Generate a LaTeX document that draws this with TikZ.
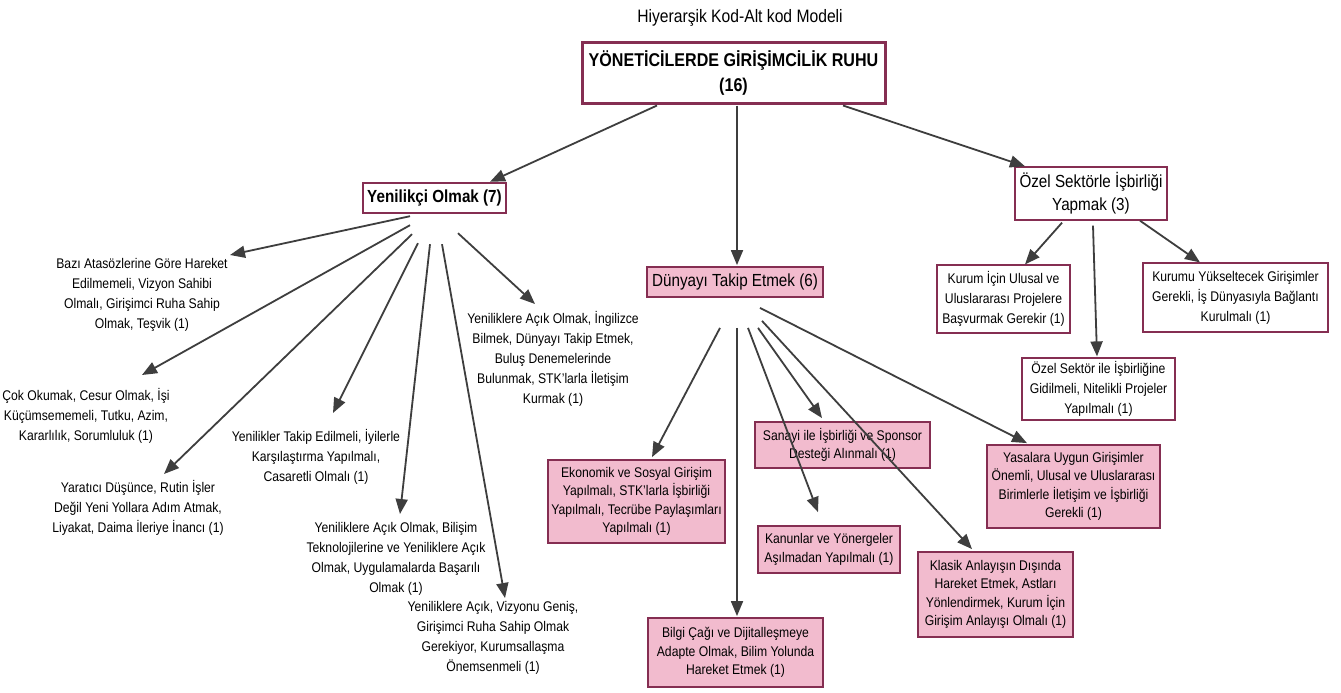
\documentclass[tikz,border=0pt]{standalone}
\usepackage{fontspec}
\setmainfont{Liberation Sans}[FakeStretch=0.87]
\usetikzlibrary{arrows.meta,calc}
\definecolor{boxedge}{RGB}{133,46,82}
\definecolor{boxpink}{RGB}{242,187,206}
\definecolor{arrowgray}{RGB}{62,62,62}
\tikzset{
  box/.style={draw=boxedge, align=center, inner sep=1pt, text=black,
    font=\fontsize{14}{18.5}\selectfont},
  pinkbox/.style={box, fill=boxpink, line width=1.8pt},
  whitebox/.style={box, fill=white, line width=1.2pt,
    font=\fontsize{14}{20}\selectfont},
  leaf/.style={align=center, inner sep=0pt, anchor=north, text=black,
    font=\fontsize{14}{20}\selectfont},
  arr/.style={draw=arrowgray, line width=1.8pt,
    -{Triangle[length=15pt,width=12pt]}}
}
\begin{document}
\begin{tikzpicture}[x=1pt,y=-1pt]
\useasboundingbox[fill=white] (0,0) rectangle (1341,693);

% title
\node[font=\fontsize{18}{22}\selectfont] (title) at (740,18) {Hiyerarşik Kod-Alt kod Modeli};

% root and first level
\node[box, fill=white, line width=3pt, minimum width=303pt, minimum height=60pt,
  font=\fontsize{18.5}{25}\selectfont\bfseries] (root) at (733.5,73)
  {YÖNETİCİLERDE GİRİŞİMCİLİK RUHU\\(16)};
\node[box, fill=white, line width=2.4pt, minimum width=143pt, minimum height=30pt,
  font=\fontsize{17.5}{21}\selectfont\bfseries] (yen) at (434.5,198) {Yenilikçi Olmak (7)};
\node[box, fill=white, line width=1.4pt, minimum width=152pt, minimum height=53pt,
  font=\fontsize{17.5}{23}\selectfont] (ozel) at (1091,193.5) {Özel Sektörle İşbirliği\\Yapmak (3)};
\node[pinkbox, minimum width=176pt, minimum height=30pt,
  font=\fontsize{17.5}{21}\selectfont] (dun) at (735,282) {Dünyayı Takip Etmek (6)};

% children of "Özel Sektörle İşbirliği Yapmak"
\node[whitebox, minimum width=133pt, minimum height=68pt] (kic) at (1003.5,299)
  {Kurum İçin Ulusal ve\\Uluslararası Projelere\\Başvurmak Gerekir (1)};
\node[whitebox, minimum width=185pt, minimum height=69pt] (kuy) at (1235.5,297.5)
  {Kurumu Yükseltecek Girişimler\\Gerekli, İş Dünyasıyla Bağlantı\\Kurulmalı (1)};
\node[whitebox, minimum width=153pt, minimum height=62pt] (ozs) at (1098.5,389)
  {Özel Sektör ile İşbirliğine\\Gidilmeli, Nitelikli Projeler\\Yapılmalı (1)};

% children of "Dünyayı Takip Etmek"
\node[pinkbox, minimum width=177pt, minimum height=83pt] (eko) at (636.5,501.5)
  {Ekonomik ve Sosyal Girişim\\Yapılmalı, STK'larla İşbirliği\\Yapılmalı, Tecrübe Paylaşımları\\Yapılmalı (1)};
\node[pinkbox, minimum width=175pt, minimum height=46pt] (san) at (842.5,445)
  {Sanayi ile İşbirliği ve Sponsor\\Desteği Alınmalı (1)};
\node[pinkbox, minimum width=142pt, minimum height=47pt] (kan) at (829,549.5)
  {Kanunlar ve Yönergeler\\Aşılmadan Yapılmalı (1)};
\node[pinkbox, minimum width=175pt, minimum height=69pt] (bil) at (735.5,652.5)
  {Bilgi Çağı ve Dijitalleşmeye\\Adapte Olmak, Bilim Yolunda\\Hareket Etmek (1)};
\node[pinkbox, minimum width=173pt, minimum height=83pt] (yas) at (1073.5,486.5)
  {Yasalara Uygun Girişimler\\Önemli, Ulusal ve Uluslararası\\Birimlerle İletişim ve İşbirliği\\Gerekli (1)};
\node[pinkbox, minimum width=155pt, minimum height=85pt] (kla) at (995.5,594.5)
  {Klasik Anlayışın Dışında\\Hareket Etmek, Astları\\Yönlendirmek, Kurum İçin\\Girişim Anlayışı Olmalı (1)};

% children of "Yenilikçi Olmak" (plain text)
\node[leaf] (baz) at (142,258)
  {Bazı Atasözlerine Göre Hareket\\Edilmemeli, Vizyon Sahibi\\Olmalı, Girişimci Ruha Sahip\\Olmak, Teşvik (1)};
\node[leaf] (cok) at (86,388)
  {Çok Okumak, Cesur Olmak, İşi\\Küçümsememeli, Tutku, Azim,\\Kararlılık, Sorumluluk (1)};
\node[leaf] (yar) at (138,480)
  {Yaratıcı Düşünce, Rutin İşler\\Değil Yeni Yollara Adım Atmak,\\Liyakat, Daima İleriye İnancı (1)};
\node[leaf] (tak) at (316,429)
  {Yenilikler Takip Edilmeli, İyilerle\\Karşılaştırma Yapılmalı,\\Casaretli Olmalı (1)};
\node[leaf] (bls) at (396,522)
  {Yeniliklere Açık Olmak, Bilişim\\Teknolojilerine ve Yeniliklere Açık\\Olmak, Uygulamalarda Başarılı\\Olmak (1)};
\node[leaf] (viz) at (493,601)
  {Yeniliklere Açık, Vizyonu Geniş,\\Girişimci Ruha Sahip Olmak\\Gerekiyor, Kurumsallaşma\\Önemsenmeli (1)};
\node[leaf] (ing) at (553,311)
  {Yeniliklere Açık Olmak, İngilizce\\Bilmek, Dünyayı Takip Etmek,\\Buluş Denemelerinde\\Bulunmak, STK'larla İletişim\\Kurmak (1)};

% connectors from the root
\draw[arr] ($(root.south)+(-76.5,1)$) -- ($(yen.north)+(55.5,0)$);
\draw[arr] ($(root.south)+(3.5,1)$) -- ($(dun.north)+(2,-1)$);
\draw[arr] ($(root.south)+(109.5,1)$) -- ($(ozel.north)+(-66,0)$);

% connectors from "Yenilikçi Olmak"
\draw[arr] ($(yen.south)+(-24.5,2)$) -- ($(baz.north)+(88,-3)$);
\draw[arr] ($(yen.south)+(-24.5,11)$) -- ($(cok.north)+(56,-13)$);
\draw[arr] ($(yen.south)+(-22.5,20)$) -- ($(yar.north)+(26,-6)$);
\draw[arr] ($(yen.south)+(-16.5,29)$) -- ($(tak.north)+(17,-16)$);
\draw[arr] ($(yen.south)+(-4.5,30)$) -- ($(bls.north)+(4,-8)$);
\draw[arr] ($(yen.south)+(7.5,30)$) -- ($(viz.north)+(12,-3)$);
\draw[arr] ($(yen.south)+(23.5,19)$) -- ($(ing.north)+(-18,-7)$);

% connectors from "Özel Sektörle İşbirliği Yapmak"
\draw[arr] ($(ozel.south)+(-29,2)$) -- ($(kic.north)+(21.5,0)$);
\draw[arr] ($(ozel.south)+(2,5)$) -- ($(ozs.north)+(-1.5,-1)$);
\draw[arr] ($(ozel.south)+(49,0)$) -- ($(kuy.north)+(-35.5,0)$);

% connectors from "Dünyayı Takip Etmek"
\draw[arr] ($(dun.south)+(-15,30)$) -- ($(eko.north)+(15.5,-2)$);
\draw[arr] ($(dun.south)+(2,30)$) -- ($(bil.north)+(1.5,-1)$);
\draw[arr] ($(dun.south)+(13,30)$) -- ($(kan.north)+(-11,-13)$);
\draw[arr] ($(dun.south)+(23,30)$) -- ($(san.north)+(-20.5,-3)$);
\draw[arr] ($(dun.south)+(27,23)$) -- ($(kla.north)+(-23.5,-2)$);
\draw[arr] ($(dun.south)+(25,10)$) -- ($(yas.north)+(-46.5,-1)$);
\end{tikzpicture}
\end{document}
